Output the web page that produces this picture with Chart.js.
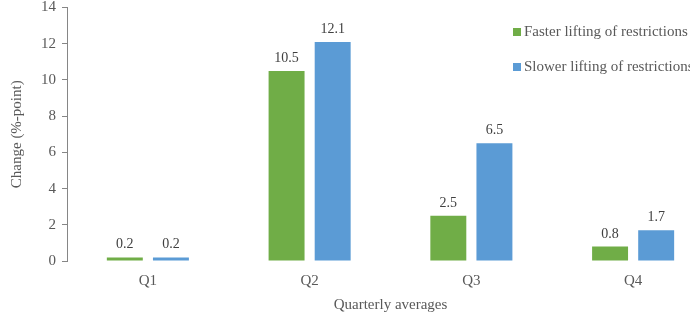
<!DOCTYPE html>
<html>
<head>
<meta charset="utf-8">
<script src="https://cdn.jsdelivr.net/npm/chart.js@4.4.1/dist/chart.umd.min.js"></script>
<style>
  html, body { margin: 0; padding: 0; background: #fff; overflow: hidden; }
  /* the plot area runs on past the right edge of the picture, so the canvas is wider and clipped */
  #wrap { position: relative; width: 690px; height: 314px; overflow: hidden; }
</style>
</head>
<body>
<div id="wrap"><canvas id="qChart" width="714" height="314"></canvas></div>
<script>
// chart data
const quarters = ['Q1', 'Q2', 'Q3', 'Q4'];
const fasterLifting = [0.2, 10.5, 2.5, 0.8];
const slowerLifting = [0.2, 12.1, 6.5, 1.7];
const seriesNames = ['Faster lifting of restrictions', 'Slower lifting of restrictions'];
const yTicks = [0, 2, 4, 6, 8, 10, 12, 14];

const serif = "'Liberation Serif', 'DejaVu Serif', serif";
const green = '#70AD47';
const blue = '#5B9BD5';

// value labels above each bar
const barLabels = {
    id: 'barLabels',
    afterDatasetsDraw(chart) {
        const c = chart.ctx;
        c.save();
        c.font = '14px ' + serif;
        c.fillStyle = '#404040';
        c.textAlign = 'center';
        c.textBaseline = 'alphabetic';
        chart.data.datasets.forEach((ds, di) => {
            chart.getDatasetMeta(di).data.forEach((bar, i) => {
                c.fillText(ds.data[i].toFixed(1), bar.x, bar.y - 9);
            });
        });
        c.restore();
    }
};

// legend in the upper right corner of the visible picture
const cornerLegend = {
    id: 'cornerLegend',
    afterDraw(chart) {
        const c = chart.ctx;
        c.save();
        c.font = '15px ' + serif;
        c.textBaseline = 'middle';
        chart.data.datasets.forEach((ds, i) => {
            const y = 32 + i * 35;
            c.fillStyle = ds.backgroundColor;
            c.fillRect(513, y - 4, 8, 8);
            c.fillStyle = '#595959';
            c.fillText(ds.label, 524, y);
        });
        c.restore();
    }
};

const ctx = document.getElementById('qChart').getContext('2d');

const qChart = new Chart(ctx, {
    type: 'bar',
    data: {
        labels: quarters,
        datasets: [{
            label: seriesNames[0],
            data: fasterLifting,
            backgroundColor: green,
            categoryPercentage: 0.57,
            barPercentage: 0.78
        }, {
            label: seriesNames[1],
            data: slowerLifting,
            backgroundColor: blue,
            categoryPercentage: 0.57,
            barPercentage: 0.78
        }]
    },
    options: {
        responsive: false,
        animation: false,
        layout: { padding: { top: 7.5, right: 0, bottom: 0, left: 0 } },
        plugins: {
            legend: { display: false },
            tooltip: { enabled: false }
        },
        scales: {
            x: {
                afterFit: (scale) => { scale.height = 53; },
                grid: { display: false },
                border: { display: false },
                ticks: {
                    padding: 3,
                    color: '#595959',
                    font: { family: serif, size: 15 }
                },
                title: {
                    display: true,
                    text: 'Quarterly averages',
                    color: '#595959',
                    font: { family: serif, size: 15 },
                    padding: { top: 4, bottom: 0 }
                }
            },
            y: {
                min: 0,
                max: 14,
                afterBuildTicks: (scale) => {
                    scale.ticks = yTicks.map(v => ({ value: v }));
                },
                afterFit: (scale) => {
                    scale.width = 67;
                    scale.paddingTop = 0;
                    scale.paddingBottom = 0;
                },
                grid: {
                    drawOnChartArea: false,
                    drawTicks: true,
                    tickLength: 5,
                    color: '#868686'
                },
                border: { display: true, color: '#868686', width: 1 },
                ticks: {
                    padding: 6,
                    color: '#595959',
                    font: { family: serif, size: 15 }
                },
                title: {
                    display: true,
                    text: 'Change (%-point)',
                    color: '#595959',
                    font: { family: serif, size: 15 },
                    padding: { top: 8, bottom: 4 }
                }
            }
        }
    },
    plugins: [barLabels, cornerLegend]
});
</script>
</body>
</html>
